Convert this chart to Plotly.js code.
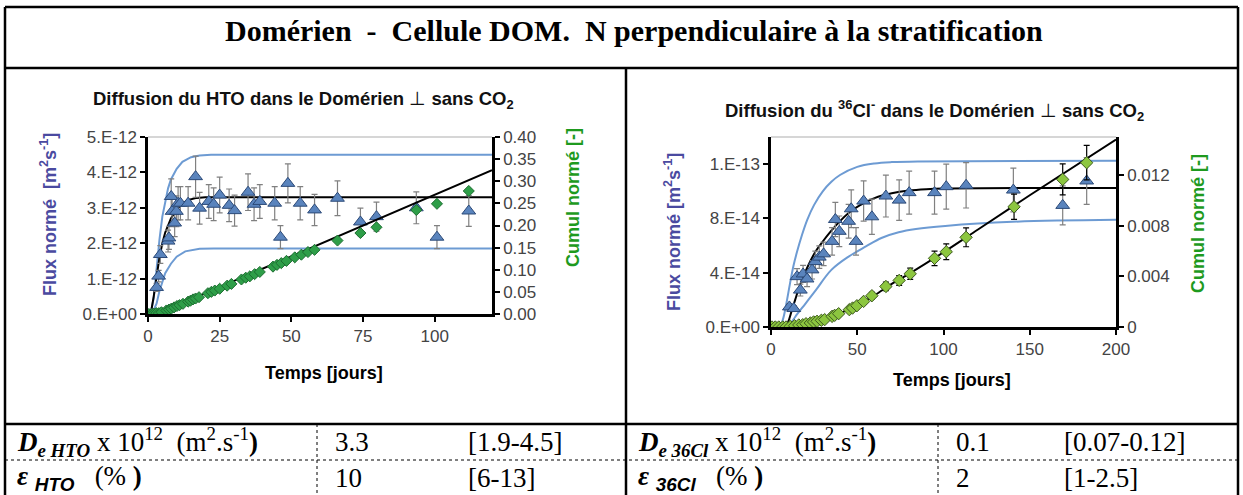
<!DOCTYPE html>
<html><head><meta charset="utf-8">
<script src="https://cdn.plot.ly/plotly-3.0.1.min.js"></script>
<style>html,body{margin:0;padding:0;background:#fff}#chart{width:1243px;height:495px}</style>
</head><body><div id="chart"></div>
<script>
// ---------- DATA : HTO (left chart) ----------
const htoDays  = [3.0,3.7,4.3,7.0,7.3,8.1,8.4,9.3,9.9,10.5,11.3,14.0,16.6,18.0,21.2,22.9,25.0,28.3,30.2,34.9,37.0,39.0,44.2,46.2,48.8,53.1,58.1,66.1,74.1,79.7,93.6,100.8,111.9];
const htoFlux  = [0.75e-12,1.07e-12,1.68e-12,2.06e-12,2.15e-12,3.32e-12,2.90e-12,2.57e-12,2.90e-12,3.13e-12,3.13e-12,3.13e-12,3.88e-12,2.99e-12,3.18e-12,3.10e-12,3.36e-12,3.07e-12,2.92e-12,3.44e-12,3.10e-12,3.18e-12,3.13e-12,2.17e-12,3.69e-12,3.13e-12,2.94e-12,3.27e-12,2.60e-12,2.75e-12,3.00e-12,2.17e-12,2.91e-12];
const htoCumDays = [0.3,1.2,2.0,2.9,3.8,4.7,6.4,7.3,8.1,9.1,10.1,11.0,12.2,14.0,14.8,15.7,16.6,17.8,20.9,22.1,23.3,25.0,27.6,29.1,32.6,34.1,35.5,37.2,39.0,43.6,45.0,46.5,48.3,51.2,53.5,55.8,58.1,66.1,74.1,79.7,93.6,100.8,111.9];
const htoCum     = [0,0,0.001,0.002,0.002,0.004,0.008,0.010,0.012,0.015,0.018,0.020,0.023,0.028,0.030,0.033,0.035,0.038,0.047,0.050,0.053,0.057,0.064,0.068,0.078,0.082,0.085,0.090,0.095,0.107,0.111,0.115,0.120,0.128,0.134,0.140,0.145,0.166,0.183,0.196,0.235,0.249,0.278];
// fitted curves
const htoFitDays  = [0,1,2,3,4,5,6,8,10,12,14,17,20,120];
const htoFitBest  = [0,0.03e-12,0.5e-12,1.1e-12,1.6e-12,2.0e-12,2.3e-12,2.7e-12,2.95e-12,3.12e-12,3.22e-12,3.28e-12,3.3e-12,3.3e-12];
const htoUpDays   = [0,1,2,3,4,5,6,7,8,10,12,15,18,22,120];
const htoUpFlux   = [0,0.05e-12,0.45e-12,1.3e-12,2.1e-12,2.75e-12,3.2e-12,3.55e-12,3.8e-12,4.1e-12,4.3e-12,4.43e-12,4.48e-12,4.5e-12,4.5e-12];
const htoLoDays   = [0,1.5,3,4,6,8,10,13,18,23,120];
const htoLoFlux   = [0,0.02e-12,0.3e-12,0.65e-12,1.15e-12,1.42e-12,1.62e-12,1.77e-12,1.84e-12,1.85e-12,1.85e-12];
const htoCumFitDays = [0,2,4,6,10,120];
const htoCumFit     = [0,0.0005,0.003,0.008,0.019,0.325];

// ---------- DATA : 36Cl (right chart) ----------
const clDays = [10.65,13.2,15.1,17.0,18.6,20.9,23.8,25.7,28.0,30.5,35.4,37.3,39.6,45.0,46.5,49.3,53.7,58.5,66.6,74.3,80.1,94.8,101.6,113.1,140.5,169.1,183.0];
const clFlux = [1.48e-14,1.36e-14,3.71e-14,2.72e-14,3.91e-14,3.54e-14,4.21e-14,4.82e-14,5.15e-14,5.39e-14,6.31e-14,7.92e-14,7.05e-14,7.79e-14,8.71e-14,6.31e-14,9.28e-14,8.12e-14,9.65e-14,9.35e-14,9.90e-14,9.90e-14,10.34e-14,10.44e-14,10.09e-14,8.96e-14,10.76e-14];
const clCumDays = [0.6,2.5,4.5,6.8,8.7,11.2,13.7,16.1,18.4,20.3,22.8,24.7,26.7,29.2,31.1,35.4,36.9,39.2,45.4,47.3,49.8,53.7,58.5,66.6,74.3,80.7,94.8,101.6,113.1,140.9,169.1,183.0];
const clCum     = [0,0,0,0,0,0.00005,0.0001,0.00016,0.00018,0.00026,0.00032,0.0004,0.00045,0.00053,0.00058,0.00084,0.00092,0.00105,0.00137,0.0015,0.00168,0.00202,0.00247,0.0032,0.00368,0.0042,0.00542,0.00594,0.00708,0.00949,0.01165,0.01297];
const clFitDays = [0,8,10,12,14,16,18,20,23,26,30,35,40,45,50,55,60,70,80,90,100,200];
const clFitBest = [0,0,0.4e-14,1.2e-14,2.0e-14,2.8e-14,3.5e-14,4.1e-14,4.9e-14,5.6e-14,6.3e-14,7.1e-14,7.8e-14,8.4e-14,8.85e-14,9.2e-14,9.5e-14,9.85e-14,10.05e-14,10.15e-14,10.2e-14,10.25e-14];
const clUpDays  = [0,5,7,9,11,13,15,18,21,25,30,35,40,50,60,70,85,200];
const clUpFlux  = [0,0,0.6e-14,1.8e-14,3.2e-14,4.5e-14,5.5e-14,6.8e-14,7.9e-14,9.0e-14,10.0e-14,10.7e-14,11.2e-14,11.8e-14,12.05e-14,12.15e-14,12.2e-14,12.25e-14];
const clLoDays  = [0,8,10,12,14,20,26,35,45,55,64,74,84,101,140,200];
const clLoFlux  = [0,0,0.1e-14,0.35e-14,0.74e-14,1.73e-14,2.72e-14,4.21e-14,5.19e-14,5.94e-14,6.56e-14,6.98e-14,7.22e-14,7.45e-14,7.75e-14,7.9e-14];
const clCumFitDays = [0,10,15,20,25,30,40,50,60,70,80,100,120,150,200];
const clCumFit     = [0,0,0.0001,0.00025,0.00042,0.00058,0.00108,0.00172,0.0025,0.0034,0.0042,0.0059,0.0077,0.0104,0.0148];

// ---------- tick labels ----------
const htoFluxTicks = [0,1e-12,2e-12,3e-12,4e-12,5e-12];
const htoFluxLabels = ['0.E+00','1.E-12','2.E-12','3.E-12','4.E-12','5.E-12'];
const htoCumTicks = [0,0.05,0.10,0.15,0.20,0.25,0.30,0.35,0.40];
const htoCumLabels = ['0.00','0.05','0.10','0.15','0.20','0.25','0.30','0.35','0.40'];
const clFluxTicks = [0,4e-14,8e-14,1.2e-13];
const clFluxLabels = ['0.E+00','4.E-14','8.E-14','1.E-13'];
const clCumTicks = [0,0.004,0.008,0.012];
const clCumLabels = ['0','0.004','0.008','0.012'];

// ---------- table texts ----------
const mainTitle = 'Domérien\u00a0\u00a0-\u00a0\u00a0Cellule DOM.\u00a0\u00a0N perpendiculaire à la stratification';
const rowDLeft  = '<b><i>D</i></b><sub><b><i>e HTO</i></b></sub> x 10<sup>12</sup>\u00a0\u00a0(m<sup>2</sup>.s<sup>-1</sup><b>)</b>';
const rowELeft  = '<b><i>ε</i></b> <sub><span style="font-family:Liberation Sans"><b><i>HTO</i></b></span></sub>\u00a0\u00a0\u00a0(%\u00a0<b>)</b>';
const rowDRight = '<b><i>D</i></b><sub><b><i>e 36Cl</i></b></sub> x 10<sup>12</sup>\u00a0\u00a0(m<sup>2</sup>.s<sup>-1</sup><b>)</b>';
const rowERight = '<b><i>ε</i></b> <sub><span style="font-family:Liberation Sans"><b><i>36Cl</i></b></span></sub>\u00a0\u00a0\u00a0(%\u00a0<b>)</b>';
const valsLeft  = ['3.3','[1.9-4.5]','10','[6-13]'];
const valsRight = ['0.1','[0.07-0.12]','2','[1-2.5]'];

// ---------- helpers (pixel -> paper) ----------
const W = 1243, H = 495;
const px = x => x / W;
const py = y => 1 - y / H;

const BLUE_LINE = '#6d9bd3';
const TRI_FILL = '#5a84bd';
const TRI_LINE = '#2c4a78';
const SANS = 'Liberation Sans, Arial, sans-serif';
const SERIF = 'Liberation Serif, Times New Roman, serif';

const traces = [
  // left chart
  {x: htoUpDays, y: htoUpFlux, xaxis:'x', yaxis:'y', mode:'lines', line:{color:BLUE_LINE, width:2}, hoverinfo:'skip'},
  {x: htoLoDays, y: htoLoFlux, xaxis:'x', yaxis:'y', mode:'lines', line:{color:BLUE_LINE, width:2}, hoverinfo:'skip'},
  {x: htoFitDays, y: htoFitBest, xaxis:'x', yaxis:'y', mode:'lines', line:{color:'#000', width:2}, hoverinfo:'skip'},
  {x: htoDays, y: htoFlux, xaxis:'x', yaxis:'y', mode:'markers',
   marker:{symbol:'triangle-up', size:12, color:TRI_FILL, line:{color:TRI_LINE, width:1}},
   error_y:{type:'percent', value:15, color:'#808080', thickness:1.2, width:3}},
  {x: htoCumFitDays, y: htoCumFit, xaxis:'x', yaxis:'y2', mode:'lines', line:{color:'#000', width:2}, hoverinfo:'skip'},
  {x: htoCumDays, y: htoCum, xaxis:'x', yaxis:'y2', mode:'markers',
   marker:{symbol:'diamond', size:8.5, color:'#2e9e48', line:{color:'#1c6e30', width:1}}},
  // right chart
  {x: clUpDays, y: clUpFlux, xaxis:'x2', yaxis:'y3', mode:'lines', line:{color:BLUE_LINE, width:2, shape:'spline'}, hoverinfo:'skip'},
  {x: clLoDays, y: clLoFlux, xaxis:'x2', yaxis:'y3', mode:'lines', line:{color:BLUE_LINE, width:2, shape:'spline'}, hoverinfo:'skip'},
  {x: clFitDays, y: clFitBest, xaxis:'x2', yaxis:'y3', mode:'lines', line:{color:'#000', width:2, shape:'spline'}, hoverinfo:'skip'},
  {x: clDays, y: clFlux, xaxis:'x2', yaxis:'y3', mode:'markers',
   marker:{symbol:'triangle-up', size:12, color:TRI_FILL, line:{color:TRI_LINE, width:1}},
   error_y:{type:'percent', value:16, color:'#808080', thickness:1.2, width:3}},
  {x: clCumFitDays, y: clCumFit, xaxis:'x2', yaxis:'y4', mode:'lines', line:{color:'#000', width:2, shape:'spline'}, hoverinfo:'skip'},
  {x: clCumDays, y: clCum, xaxis:'x2', yaxis:'y4', mode:'markers',
   marker:{symbol:'diamond', size:9.5, color:'#8cc63f', line:{color:'#3d5a1f', width:1}},
   error_y:{type:'percent', value:10.5, color:'#000', thickness:1.2, width:3}}
];

const axBase = {showline:true, linecolor:'#000', linewidth:2.5, ticks:'outside', ticklen:5, tickwidth:2,
  tickcolor:'#000', showgrid:false, zeroline:false, fixedrange:true,
  tickfont:{family:SANS, size:17, color:'#444'}};

const layout = {
  width:W, height:H, margin:{l:0,r:0,t:0,b:0}, showlegend:false,
  paper_bgcolor:'#fff', plot_bgcolor:'rgba(0,0,0,0)',
  xaxis: Object.assign({}, axBase, {domain:[px(148), px(492)], range:[0,120], anchor:'y', tickvals:[0,25,50,75,100]}),
  yaxis: Object.assign({}, axBase, {domain:[py(314), py(137)], range:[0,5e-12], anchor:'x', tickvals:htoFluxTicks, ticktext:htoFluxLabels}),
  yaxis2: Object.assign({}, axBase, {overlaying:'y', side:'right', anchor:'x', range:[0,0.40], tickvals:htoCumTicks, ticktext:htoCumLabels}),
  xaxis2: Object.assign({}, axBase, {domain:[px(771), px(1116)], range:[0,200], anchor:'y3', tickvals:[0,50,100,150,200]}),
  yaxis3: Object.assign({}, axBase, {domain:[py(327), py(137)], range:[0,1.4e-13], anchor:'x2', tickvals:clFluxTicks, ticktext:clFluxLabels}),
  yaxis4: Object.assign({}, axBase, {overlaying:'y3', side:'right', anchor:'x2', range:[0,0.015], tickvals:clCumTicks, ticktext:clCumLabels}),
  shapes: [
    // top light border of each plot
    {type:'line', xref:'x domain', yref:'y domain', x0:0, x1:1, y0:1, y1:1, line:{color:'#c8c8c8', width:1.5}},
    {type:'line', xref:'x2 domain', yref:'y3 domain', x0:0, x1:1, y0:1, y1:1, line:{color:'#c8c8c8', width:1.5}},
    // table frame
    {type:'line', xref:'paper', yref:'paper', x0:px(5), x1:px(1238), y0:py(7), y1:py(7), line:{color:'#000', width:2.5}},
    {type:'line', xref:'paper', yref:'paper', x0:px(5), x1:px(5), y0:py(7), y1:py(495), line:{color:'#000', width:2.5}},
    {type:'line', xref:'paper', yref:'paper', x0:px(1238), x1:px(1238), y0:py(7), y1:py(495), line:{color:'#000', width:2.5}},
    {type:'line', xref:'paper', yref:'paper', x0:px(5), x1:px(1238), y0:py(68), y1:py(68), line:{color:'#000', width:2.5}},
    {type:'line', xref:'paper', yref:'paper', x0:px(626), x1:px(626), y0:py(68), y1:py(495), line:{color:'#000', width:2.5}},
    {type:'line', xref:'paper', yref:'paper', x0:px(5), x1:px(1238), y0:py(424), y1:py(424), line:{color:'#000', width:2.5}},
    {type:'line', xref:'paper', yref:'paper', x0:px(5), x1:px(1238), y0:py(460), y1:py(460), line:{color:'#000', width:1, dash:'dot'}},
    {type:'line', xref:'paper', yref:'paper', x0:px(317), x1:px(317), y0:py(424), y1:py(495), line:{color:'#000', width:1, dash:'dot'}},
    {type:'line', xref:'paper', yref:'paper', x0:px(938), x1:px(938), y0:py(424), y1:py(495), line:{color:'#000', width:1, dash:'dot'}}
  ],
  annotations: []
};

function ann(text, x, y, opts) {
  layout.annotations.push(Object.assign({text:text, xref:'paper', yref:'paper', x:px(x), y:py(y),
    xanchor:'center', yanchor:'middle', showarrow:false}, opts || {}));
}
// main title
ann('<b>' + mainTitle + '</b>', 634, 31, {font:{family:SERIF, size:30, color:'#000'}});
// chart titles
ann('<b>Diffusion du HTO dans le Domérien</b> ⊥ <b>sans CO<sub>2</sub></b>', 303, 100, {font:{family:SANS, size:18.5, color:'#111'}});
ann('<b>Diffusion du <sup>36</sup>Cl<sup>-</sup> dans le Domérien</b> ⊥ <b>sans CO<sub>2</sub></b>', 935, 110, {font:{family:SANS, size:18.5, color:'#111'}});
// axis titles
ann('<b>Flux normé\u00a0\u00a0[m<sup>2</sup>s<sup>-1</sup>]</b>', 48, 215, {textangle:-90, font:{family:SANS, size:18, color:'#4a4aa0'}});
ann('<b>Cumul normé [-]</b>', 573, 198, {textangle:-90, font:{family:SANS, size:18, color:'#1e9a1e'}});
ann('<b>Temps [jours]</b>', 324, 373, {font:{family:SANS, size:18, color:'#000'}});
ann('<b>Flux normé [m<sup>2</sup>s<sup>-1</sup>]</b>', 672, 232, {textangle:-90, font:{family:SANS, size:18, color:'#4a4aa0'}});
ann('<b>Cumul normé [-]</b>', 1198, 224, {textangle:-90, font:{family:SANS, size:18, color:'#1e9a1e'}});
ann('<b>Temps [jours]</b>', 952, 380, {font:{family:SANS, size:18, color:'#000'}});
// table rows
const tfont = {family:SERIF, size:27, color:'#000'};
ann(rowDLeft, 15, 442, {xanchor:'left', font:tfont});
ann(rowELeft, 15, 478, {xanchor:'left', font:tfont});
ann(valsLeft[0], 333, 442, {xanchor:'left', font:tfont});
ann(valsLeft[1], 466, 442, {xanchor:'left', font:tfont});
ann(valsLeft[2], 333, 478, {xanchor:'left', font:tfont});
ann(valsLeft[3], 466, 478, {xanchor:'left', font:tfont});
ann(rowDRight, 636, 442, {xanchor:'left', font:tfont});
ann(rowERight, 636, 478, {xanchor:'left', font:tfont});
ann(valsRight[0], 954, 442, {xanchor:'left', font:tfont});
ann(valsRight[1], 1062, 442, {xanchor:'left', font:tfont});
ann(valsRight[2], 954, 478, {xanchor:'left', font:tfont});
ann(valsRight[3], 1062, 478, {xanchor:'left', font:tfont});

Plotly.newPlot('chart', traces, layout, {displayModeBar:false});
</script></body></html>
